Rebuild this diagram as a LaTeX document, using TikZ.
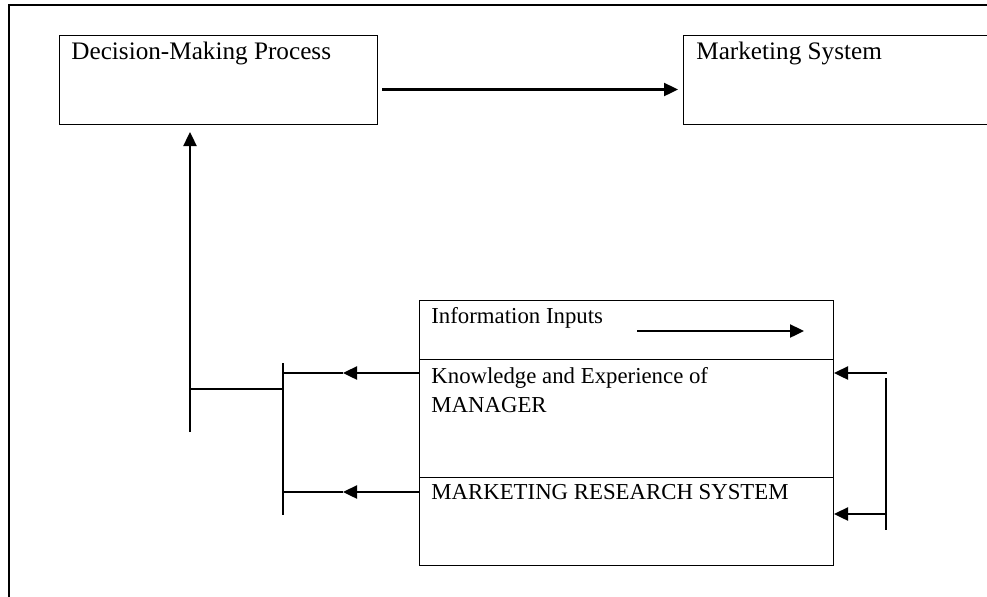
\documentclass[tikz,border=0pt]{standalone}
\usepackage{fontspec}
\setmainfont{Liberation Serif}
\usetikzlibrary{arrows.meta}

\tikzset{
	box/.style={draw,line width=.5pt,inner sep=0pt,anchor=north west},
	txt/.style={anchor=base west,inner sep=0pt,font=\fontsize{11.4}{14}\selectfont},
	big/.style={font=\fontsize{12.6}{15}\selectfont},
	flow/.style={line width=1.2pt,-{Triangle[length=7pt,width=6.5pt]}},
	thin/.style={line width=.6pt}
}

\begin{document}
\begin{tikzpicture}[x=.5pt,y=-.5pt]
			\useasboundingbox (0,0) rectangle (987,596);
			\clip (0,0) rectangle (987,596);
			\draw [line width=1.2pt] (9,600) -- (9,5) -- (1000,5);
			
			\node [box,minimum width=159pt,minimum height=44.5pt] (dmp) at (59,35) {};
			\node [txt,big] at (71,59) {Decision-Making Process};
			\node [box,minimum width=160pt,minimum height=44.5pt] (ms) at (683,35) {};
			\node [txt,big] at (696,59) {Marketing System};
			\draw [flow,shorten <=2pt,shorten >=2.5pt] ([yshift=-4.75pt]dmp.east) -- ([yshift=-4.75pt]ms.west);
			
			\node [box,minimum width=207pt,minimum height=29.5pt] (info) at (419,300) {};
			\node [box,minimum width=207pt,minimum height=59pt] (know) at (419,359) {};
			\node [box,minimum width=207pt,minimum height=44pt] (mrs) at (419,477) {};
			\node [txt] at (431,323) {Information Inputs};
			\node [txt] at (431,383) {Knowledge and Experience of};
			\node [txt] at (431,412) {MANAGER};
			\node [txt] at (431,499) {MARKETING RESEARCH SYSTEM};
			\coordinate (in1) at (637,331); \coordinate (in2) at (804,331);
			\draw [flow] (in1) -- (in2);
			
			\coordinate (up) at (190,432); \coordinate (join) at (190,389);
			\draw [flow,shorten >=3.5pt] (up) -- (up |- dmp.south);
			\draw [thin] (join) -- (283,389);
			\draw [thin] (283,363) -- (283,515);
			
			\coordinate (k1) at (343,373); \coordinate (m1) at (343,492);
			\draw [flow] ([yshift=-7pt]know.north west) -- (k1); \draw [thin] (k1) -- (283,373);
			\draw [flow] ([yshift=-7.5pt]mrs.north west) -- (m1); \draw [thin] (m1) -- (283,492);
			
			\coordinate (k2) at (887,373); \coordinate (m2) at (887,514);
			\draw [flow] (k2) -- (k2 -| know.east);
			\draw [flow] (m2) -- (m2 -| mrs.east);
			\draw [thin] (886,378) -- (886,530);
			\end{tikzpicture}
\end{document}
